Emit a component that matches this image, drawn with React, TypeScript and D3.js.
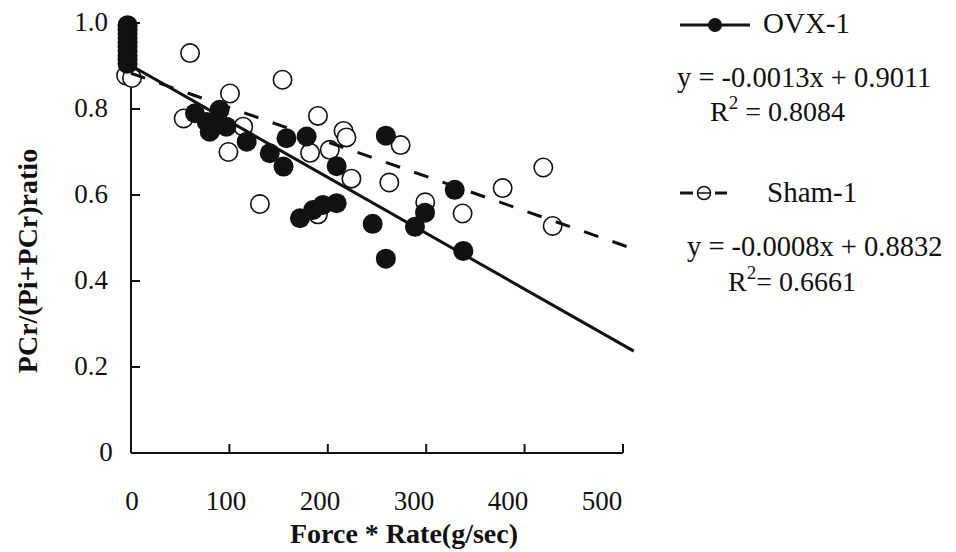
import React from "react";
import * as d3 from "d3";

// ---------- data ----------
const ovxX = [-3.5, -3.5, -3.5, -3.5, -3.5, -3.5, -3.5, -3.5, -3.5, -3.5,
  65, 77, 90, 80, 97, 84, 117.6, 141, 155, 158, 178.5, 209, 171.7, 185, 195, 209,
  245.6, 259, 259, 288.6, 298.8, 329, 337.7];
const ovxY = [0.995, 0.985, 0.975, 0.965, 0.955, 0.945, 0.935, 0.925, 0.915, 0.905,
  0.79, 0.77, 0.798, 0.747, 0.759, 0.759, 0.724, 0.697, 0.666, 0.732, 0.736, 0.667, 0.546, 0.565, 0.577, 0.581,
  0.533, 0.452, 0.738, 0.526, 0.559, 0.612, 0.47];

const shamX = [-5, 1, 60, 154, 100.6, 53.5, 99, 114, 131, 190, 216, 219, 182, 202, 224,
  274, 262.5, 299, 190, 337, 377.7, 419, 428.5];
const shamY = [0.878, 0.872, 0.93, 0.868, 0.836, 0.778, 0.70, 0.759, 0.579, 0.784, 0.749, 0.734, 0.698, 0.705, 0.638,
  0.716, 0.629, 0.583, 0.555, 0.557, 0.616, 0.664, 0.528];

const ovxFit = { slope: -0.0013, intercept: 0.9011 };
const shamFit = { slope: -0.0008, intercept: 0.8832 };
const fitRange = [0, 511];

const xTicks = [0, 100, 200, 300, 400, 500];
const yTicks = [0, 0.2, 0.4, 0.6, 0.8, 1.0];
const yTickLabels = ["0", "0.2", "0.4", "0.6", "0.8", "1.0"];

const xTitle = "Force * Rate(g/sec)";
const yTitle = "PCr/(Pi+PCr)ratio";

const legend1 = { name: "OVX-1", eq: "y = -0.0013x + 0.9011", r2: " = 0.8084" };
const legend2 = { name: "Sham-1", eq: "y = -0.0008x + 0.8832", r2: "= 0.6661" };

// ---------- layout ----------
const W = 956, H = 552;
const FONT = "Liberation Serif";
const INK = "#111";

export default function App() {
  const x = d3.scaleLinear().domain([0, 500]).range([131, 623]);
  const xLab = d3.scaleLinear().domain([0, 500]).range([132, 602]);
  const y = d3.scaleLinear().domain([0, 1]).range([453, 23]);
  const R = 10;

  const fitLine = (f: { slope: number; intercept: number }) =>
    d3.line<number>().x((v) => x(v)).y((v) => y(f.slope * v + f.intercept))(fitRange) || "";

  const T = { fontFamily: FONT };

  return (
    <svg width={W} height={H} style={{ position: "absolute", left: 0, top: 0, background: "#fff", fontFamily: FONT }}>
      <rect width={W} height={H} fill="#fff" />
      {/* axes */}
      <line x1={x(0)} x2={x(0)} y1={y(1)} y2={y(0)} stroke={INK} strokeWidth={2} />
      <line x1={x(0)} x2={x(500)} y1={y(0)} y2={y(0)} stroke={INK} strokeWidth={2} />
      {yTicks.slice(1).map((t) => (
        <line key={"yt" + t} x1={x(0)} x2={x(0) + 9} y1={y(t)} y2={y(t)} stroke={INK} strokeWidth={2} />
      ))}
      {xTicks.slice(1).map((t) => (
        <line key={"xt" + t} x1={x(t)} x2={x(t)} y1={y(0)} y2={y(0) - 9} stroke={INK} strokeWidth={2} />
      ))}
      {yTicks.map((t, i) => (
        <text key={"yl" + t} style={T} x={t === 0 ? 106 : 108} y={y(t) + 2} dominantBaseline="middle"
          textAnchor={t === 0 ? "middle" : "end"} fontSize={27} fill={INK}>{yTickLabels[i]}</text>
      ))}
      {xTicks.map((t) => (
        <text key={"xl" + t} style={T} x={xLab(t)} y={510} textAnchor="middle" fontSize={27} fill={INK}>{t}</text>
      ))}
      <text style={T} x={404} y={543} textAnchor="middle" fontSize={28} fontWeight="bold" fill={INK}>{xTitle}</text>
      <text style={T} transform="translate(37,261) rotate(-90)" textAnchor="middle" fontSize={28} fontWeight="bold" fill={INK}>{yTitle}</text>

      {/* points */}
      {shamX.map((v, i) => (
        <circle key={"s" + i} cx={x(v)} cy={y(shamY[i])} r={R - 0.8} fill="#fff" stroke={INK} strokeWidth={1.6} />
      ))}
      {ovxX.map((v, i) => (
        <circle key={"o" + i} cx={x(v)} cy={y(ovxY[i])} r={R} fill={INK} />
      ))}

      {/* fit lines */}
      <path d={fitLine(ovxFit)} fill="none" stroke={INK} strokeWidth={3} />
      <path d={fitLine(shamFit)} fill="none" stroke={INK} strokeWidth={3} strokeDasharray="15,15" />

      {/* legend */}
      <line x1={680} x2={750} y1={25} y2={25} stroke={INK} strokeWidth={3} />
      <circle cx={715} cy={25} r={7} fill={INK} />
      <text style={T} x={763} y={33} fontSize={29} fill={INK}>{legend1.name}</text>
      <text style={T} x={677} y={87} fontSize={28.5} fill={INK}>{legend1.eq}</text>
      <text style={T} x={710} y={121} fontSize={28} fill={INK}>R<tspan fontSize={19} dy={-12}>2</tspan><tspan dy={12}>{legend1.r2}</tspan></text>

      <line x1={680} x2={693} y1={193} y2={193} stroke={INK} strokeWidth={3} />
      <line x1={715} x2={727} y1={193} y2={193} stroke={INK} strokeWidth={3} />
      <circle cx={704} cy={193} r={6.5} fill="#fff" stroke={INK} strokeWidth={1.5} />
      <line x1={698} x2={710} y1={193} y2={193} stroke={INK} strokeWidth={1.5} />
      <text style={T} x={767} y={202} fontSize={29} fill={INK}>{legend2.name}</text>
      <text style={T} x={687} y={256} fontSize={28.5} fill={INK}>{legend2.eq}</text>
      <text style={T} x={728} y={291} fontSize={28} fill={INK}>R<tspan fontSize={19} dy={-12}>2</tspan><tspan dy={12}>{legend2.r2}</tspan></text>
    </svg>
  );
}
